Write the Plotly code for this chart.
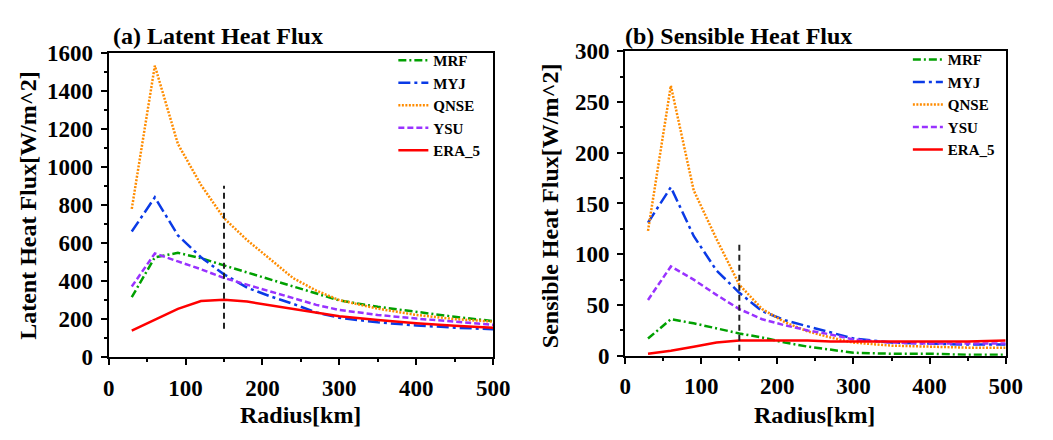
import plotly.graph_objects as go

# ---------------- data ----------------
radius = [30, 60, 90, 120, 150, 180, 210, 240, 270, 300, 350, 400, 450, 500]

# (a) Latent heat flux [W/m^2]
lh_mrf = [315, 525, 548, 520, 482, 445, 410, 375, 335, 298, 265, 237, 212, 190]
lh_myj = [660, 840, 640, 525, 435, 365, 320, 280, 235, 207, 183, 167, 155, 147]
lh_qnse = [779, 1531, 1120, 905, 730, 615, 515, 415, 350, 300, 255, 222, 200, 187]
lh_ysu = [371, 545, 503, 462, 416, 380, 345, 308, 275, 248, 222, 203, 185, 170]
lh_era5 = [140, 195, 254, 295, 302, 292, 272, 252, 232, 215, 195, 178, 165, 155]

# (b) Sensible heat flux [W/m^2]
sh_mrf = [17, 36, 32, 27, 22, 18, 13, 9, 6, 3, 2, 2, 1, 1]
sh_myj = [131, 166, 118, 84, 62, 44, 35, 29, 23, 17, 13, 12, 11, 11]
sh_qnse = [123, 266, 163, 115, 70, 46, 33, 24, 18, 13, 10, 9, 8, 8]
sh_ysu = [55, 88, 75, 60, 46, 36, 30, 25, 21, 16, 13, 12, 12, 12]
sh_era5 = [2, 5, 9, 13, 15, 15, 15, 15, 14, 14, 14, 14, 14, 15]

series_names = ["MRF", "MYJ", "QNSE", "YSU", "ERA_5"]

# vertical reference line (x = 150 km)
ref_x = 150
lh_ref_y = [150, 900]
sh_ref_y = [5, 113]

x_ticks = [0, 100, 200, 300, 400, 500]
lh_ticks = [0, 200, 400, 600, 800, 1000, 1200, 1400, 1600]
sh_ticks = [0, 50, 100, 150, 200, 250, 300]

# ---------------- styles ----------------
FONT = "Liberation Serif"
styles = {
    "MRF": dict(color="#00a000", dash="8px,3px,2px,3px"),
    "MYJ": dict(color="#0a3ae6", dash="12px,4px,3px,4px"),
    "QNSE": dict(color="#ff8c00", dash="2px,1.5px"),
    "YSU": dict(color="#9932ff", dash="6px,3px"),
    "ERA_5": dict(color="#ff0000", dash="solid"),
}

fig = go.Figure()

panel_a = [lh_mrf, lh_myj, lh_qnse, lh_ysu, lh_era5]
panel_b = [sh_mrf, sh_myj, sh_qnse, sh_ysu, sh_era5]

for name, ys in zip(series_names, panel_a):
    st = styles[name]
    fig.add_trace(go.Scatter(x=radius, y=ys, mode="lines", name=name,
                             line=dict(color=st["color"], dash=st["dash"], width=2.5),
                             xaxis="x", yaxis="y", legend="legend"))
for name, ys in zip(series_names, panel_b):
    st = styles[name]
    fig.add_trace(go.Scatter(x=radius, y=ys, mode="lines", name=name,
                             line=dict(color=st["color"], dash=st["dash"], width=2.5),
                             xaxis="x2", yaxis="y2", legend="legend2"))

fig.add_trace(go.Scatter(x=[ref_x, ref_x], y=lh_ref_y, mode="lines", showlegend=False,
                         line=dict(color="#222222", dash="6px,4px", width=2),
                         xaxis="x", yaxis="y"))
fig.add_trace(go.Scatter(x=[ref_x, ref_x], y=sh_ref_y, mode="lines", showlegend=False,
                         line=dict(color="#222222", dash="6px,4px", width=2),
                         xaxis="x2", yaxis="y2"))

W, H = 1053, 440

def axis_common(tickvals, minor_dtick):
    return dict(
        showline=True, linecolor="black", linewidth=2, mirror=True,
        ticks="outside", ticklen=6, tickwidth=1.5, tickcolor="black",
        tickmode="array", tickvals=tickvals,
        ticktext=["<b>%d</b>" % v for v in tickvals],
        ticklabelstandoff=3,
        showgrid=False, zeroline=False,
        tickfont=dict(family=FONT + ", Times New Roman, serif", size=23, color="black"),
        minor=dict(ticks="outside", ticklen=3, tickwidth=1.5, tickcolor="black",
                   dtick=minor_dtick, showgrid=False),
    )

xa = axis_common(x_ticks, 50)
xa.update(range=[0, 500], domain=[105 / W, 498 / W], anchor="y")
ya = axis_common(lh_ticks, 100)
ya.update(range=[0, 1600], domain=[1 - 366 / H, 1 - 43 / H], anchor="x")
xb = axis_common(x_ticks, 50)
xb.update(range=[0, 500], domain=[633 / W, 1022 / W], anchor="y2")
yb = axis_common(sh_ticks, 25)
yb.update(range=[0, 300], domain=[1 - 364.5 / H, 1 - 41.5 / H], anchor="x2")

legend_style = dict(font=dict(family=FONT, size=15, color="black", weight="bold"),
                    bgcolor="rgba(0,0,0,0)", borderwidth=0, tracegroupgap=0,
                    xanchor="left", yanchor="top", itemwidth=30)

fig.update_layout(
    width=W, height=H,
    margin=dict(l=0, r=0, t=0, b=0),
    paper_bgcolor="white", plot_bgcolor="white",
    font=dict(family=FONT, color="black"),
    xaxis=xa, yaxis=ya, xaxis2=xb, yaxis2=yb,
    legend=dict(x=396 / W, y=1 - 34 / H, **legend_style),
    legend2=dict(x=922 / W, y=1 - 33 / H, **legend_style),
)

ann_font = dict(family=FONT, size=24, color="black", weight="bold")
annotations = [
    dict(text="(a) Latent Heat Flux", x=107 / W, y=1 - 25 / H, xanchor="left", yanchor="middle"),
    dict(text="(b) Sensible Heat Flux", x=631 / W, y=1 - 25 / H, xanchor="left", yanchor="middle"),
    dict(text="Radius[km]", x=301 / W, y=1 - 427 / H, xanchor="center", yanchor="middle"),
    dict(text="Radius[km]", x=827 / W, y=1 - 427 / H, xanchor="center", yanchor="middle"),
    dict(text="Latent Heat Flux[W/m^2]", x=23 / W, y=1 - 205 / H, xanchor="center",
         yanchor="middle", textangle=-90),
    dict(text="Sensible Heat Flux[W/m^2]", x=557 / W, y=1 - 205 / H, xanchor="center",
         yanchor="middle", textangle=-90),
]
for a in annotations:
    a.update(xref="paper", yref="paper", showarrow=False, font=ann_font)
fig.update_layout(annotations=annotations)

fig.write_html("out.html")
